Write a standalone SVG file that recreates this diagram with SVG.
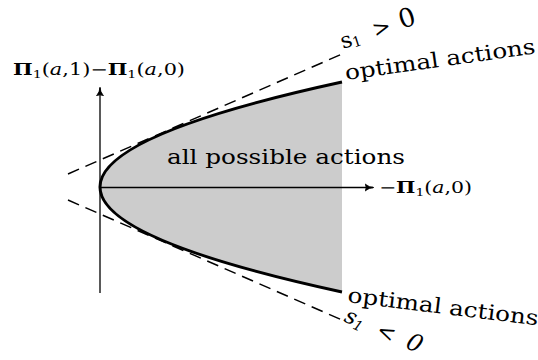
<svg xmlns="http://www.w3.org/2000/svg" width="538" height="360" viewBox="0 0 538 360">
<style>
.t{font-family:"DejaVu Serif","Liberation Serif","Times New Roman",serif;fill:#000}
.it{font-style:italic}
.bf{font-weight:bold}
.ax{stroke:#000;stroke-width:1.3;fill:none}
.dash{stroke:#000;stroke-width:1.5;fill:none;stroke-dasharray:12 7}
</style>
<defs>
<marker id="arr" viewBox="0 0 10 10" refX="9" refY="5" markerWidth="9" markerHeight="9" markerUnits="userSpaceOnUse" orient="auto">
<path d="M0,1 Q5,5 10,5 Q5,5 0,9 Q3,5 0,1Z" fill="#000" stroke="#000" stroke-width="0.8"/>
</marker>
</defs>
<g id="region">
<path d="M342,82 Q-142,187 342,292 Z" fill="#cccccc"/>
<path d="M342,82 Q-142,187 342,292" fill="none" stroke="#000" stroke-width="3"/>
</g>
<g id="connectors">
<line class="ax" x1="100" y1="293" x2="100" y2="88" marker-end="url(#arr)"/>
<line class="ax" x1="100" y1="187.5" x2="373" y2="187.5" marker-end="url(#arr)"/>
<line class="dash" x1="68" y1="174" x2="342" y2="54"/>
<line class="dash" x1="68" y1="200" x2="342" y2="320"/>
</g>
<g id="label-y">
<text class="t" x="13" y="75" font-size="16" textLength="172" lengthAdjust="spacingAndGlyphs"><tspan class="bf">Π</tspan><tspan font-size="11" dy="3">1</tspan><tspan dy="-3">(</tspan><tspan class="it">a</tspan>,1)−<tspan class="bf">Π</tspan><tspan font-size="11" dy="3">1</tspan><tspan dy="-3">(</tspan><tspan class="it">a</tspan>,0)</text>
</g>
<g id="label-x">
<text class="t" x="379" y="193" font-size="16" textLength="93" lengthAdjust="spacingAndGlyphs">−<tspan class="bf">Π</tspan><tspan font-size="11" dy="3">1</tspan><tspan dy="-3">(</tspan><tspan class="it">a</tspan>,0)</text>
</g>
<g id="label-all">
<text class="t" x="167" y="164" font-size="21" textLength="238" lengthAdjust="spacingAndGlyphs">all possible actions</text>
</g>
<g id="label-opt-top">
<text class="t" font-size="21" transform="translate(346,80) rotate(-8)" textLength="192" lengthAdjust="spacingAndGlyphs">optimal actions</text>
</g>
<g id="label-opt-bottom">
<text class="t" font-size="21" transform="translate(347,302) rotate(7)" textLength="192" lengthAdjust="spacingAndGlyphs">optimal actions</text>
</g>
<g id="label-s-pos" transform="translate(343,49) rotate(-18)">
<text class="t" x="0" y="0" font-size="22">s<tspan font-size="14" dy="2">1</tspan></text>
<text class="t" x="34" y="-1" font-size="22">&gt;</text>
<text class="t" x="62" y="-1" font-size="26">0</text>
</g>
<g id="label-s-neg" transform="translate(343,321) rotate(24)">
<text class="t it" x="0" y="0" font-size="22">s<tspan font-size="14" dy="3">1</tspan></text>
<text class="t" x="35" y="0" font-size="22">&lt;</text>
<text class="t it" x="67" y="-1" font-size="24">0</text>
</g>
</svg>
